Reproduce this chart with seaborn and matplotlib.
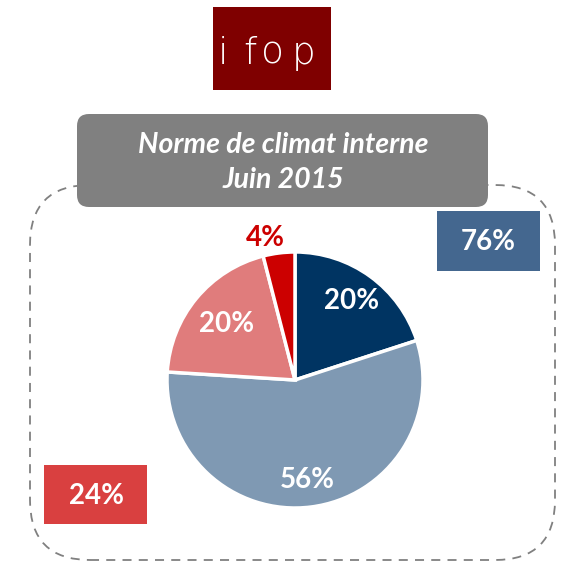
import matplotlib
matplotlib.use("Agg")
import matplotlib.pyplot as plt
import seaborn as sns
from matplotlib.patches import FancyBboxPatch, Rectangle

# Données du graphique
segments = ['Tout à fait', 'Plutôt', 'Plutôt pas', 'Pas du tout']
valeurs = [20, 56, 20, 4]
couleurs = ['#003462', '#7f99b3', '#e07c7c', '#cc0000']
total_positif = '76%'
total_negatif = '24%'
titre = ['Norme de climat interne', 'Juin 2015']

sns.set_theme(style='white')
plt.rcParams['font.family'] = ['Lato', 'DejaVu Sans']

W, H = 562, 567
fig = plt.figure(figsize=(W / 100, H / 100), dpi=100)
ax = fig.add_axes([0, 0, 1, 1])


def py(y):
    # coordonnées en pixels depuis le haut
    return H - y


cx, cy, r = 295, py(380), 128
wedges, _ = ax.pie(valeurs, colors=couleurs, startangle=90, counterclock=False,
                   center=(cx, cy), radius=r, explode=[0.03, 0.0, 0.01, 0.01],
                   wedgeprops=dict(edgecolor='white', linewidth=2.5))

ax.set_xlim(0, W)
ax.set_ylim(0, H)
ax.set_aspect('equal')
ax.axis('off')

# cadre pointillé
cadre = FancyBboxPatch((30, py(560)), 525, 375, boxstyle='round,pad=0,rounding_size=60',
                       fill=False, edgecolor='#808080', linestyle=(0, (5, 4)), linewidth=1.3,
                       zorder=0)
ax.add_patch(cadre)

# titre
boite = FancyBboxPatch((77, py(207)), 411, 93, boxstyle='round,pad=0,rounding_size=12',
                       facecolor='#808080', edgecolor='none', zorder=3)
ax.add_patch(boite)
for ligne, y in zip(titre, [145, 180]):
    ax.text(283, py(y), ligne, ha='center', va='center', color='white', fontsize=20.5,
            fontweight='bold', fontstyle='italic', zorder=4)

# logo
ax.add_patch(Rectangle((213, py(90)), 118, 83, facecolor='#7f0000', edgecolor='none'))
for lettre, x in zip('ifop', [223, 250, 272, 304]):
    ax.text(x, py(64), lettre, ha='center', va='baseline', color='white', fontsize=27,
            fontweight='ultralight', family=['DejaVu Sans'])

# totaux
ax.add_patch(Rectangle((437, py(271)), 103, 60, facecolor='#44678f', edgecolor='none'))
ax.text(488, py(242), total_positif, ha='center', va='center', color='white',
        fontsize=20, fontweight='bold')
ax.add_patch(Rectangle((44, py(524)), 103, 59, facecolor='#d94040', edgecolor='none'))
ax.text(96, py(496), total_negatif, ha='center', va='center', color='white',
        fontsize=20, fontweight='bold')

# étiquettes des parts
pos = [(352, 301), (307, 480), (227, 324), (265, 238)]
txt_col = ['white', 'white', 'white', '#cc0000']
for v, (x, y), c in zip(valeurs, pos, txt_col):
    ax.text(x, py(y), f'{v}%', ha='center', va='center', color=c, fontsize=20,
            fontweight='bold')

fig.savefig('out.png', dpi=100)
